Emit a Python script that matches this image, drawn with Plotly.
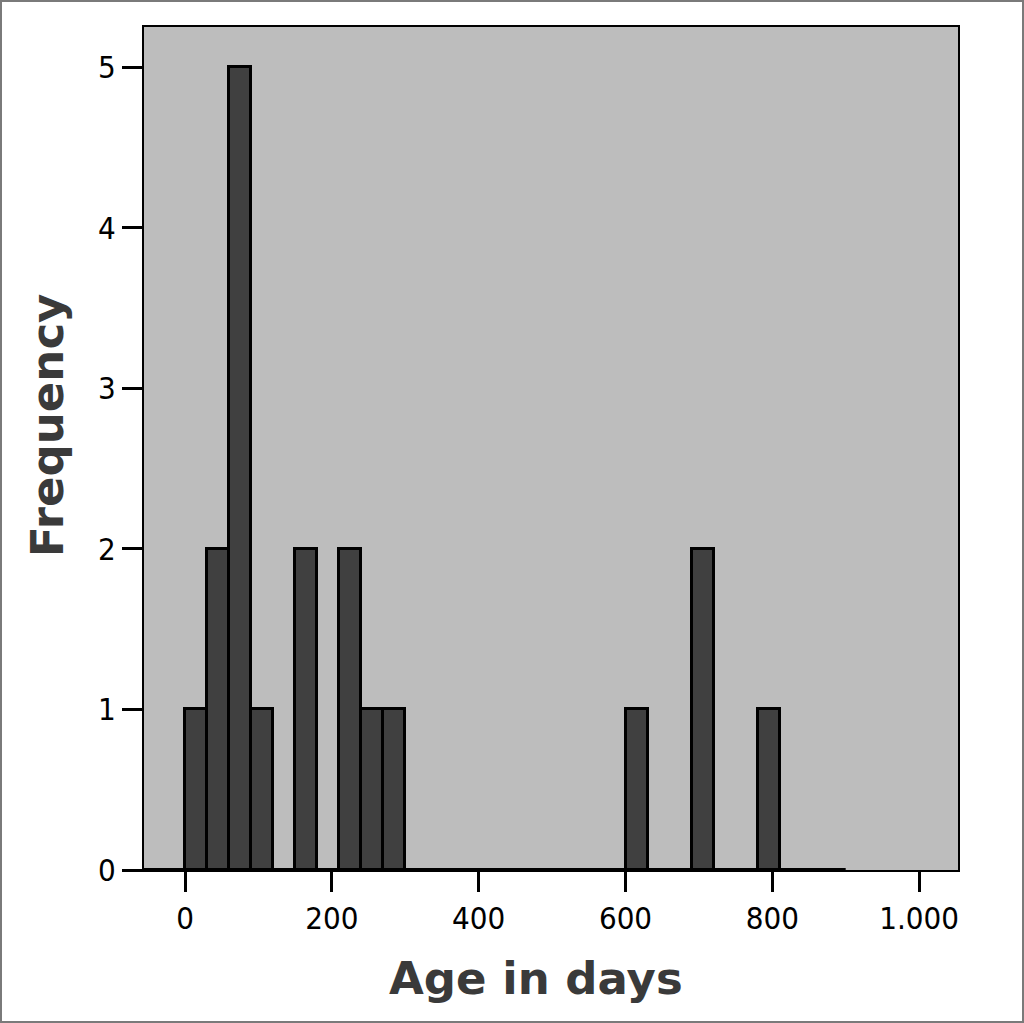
import plotly.graph_objects as go

# Histogram data (bin width 30 days)
bin_starts = [0, 30, 60, 90, 150, 210, 240, 270, 600, 690, 780]
counts = [1, 2, 5, 1, 2, 2, 1, 1, 1, 2, 1]
bin_width = 30
hist_end = 900
x_tickvals = [0, 200, 400, 600, 800, 1000]
x_ticktext = ["0", "200", "400", "600", "800", "1.000"]
y_tickvals = [0, 1, 2, 3, 4, 5]
x_title = "Age in days"
y_title = "Frequency"

W, H = 1024, 1023
ML, MR, MT, MB = 144, 66, 27, 153
PW, PH = W - ML - MR, H - MT - MB
XR = [-56, 1053]
YR = [0, 5.25]

centers = [s + bin_width / 2 for s in bin_starts]

fig = go.Figure()
fig.add_trace(go.Bar(
    x=centers, y=counts, width=[bin_width] * len(counts),
    marker=dict(color="#404040", line=dict(color="#000000", width=3)),
    showlegend=False, hoverinfo="x+y",
))

tick_font = dict(family="Liberation Sans Narrow, DejaVu Sans Condensed, Liberation Sans",
                 size=31, color="#000000")
fig.update_xaxes(
    range=XR, tickvals=x_tickvals, ticktext=x_ticktext,
    showgrid=False, zeroline=False, showline=True, linecolor="#000000", linewidth=2,
    mirror=True, ticks="outside", ticklen=20, tickwidth=3, tickcolor="#000000",
    tickfont=tick_font,
)
fig.update_yaxes(
    range=YR, tickvals=y_tickvals,
    showgrid=False, zeroline=False, showline=True, linecolor="#000000", linewidth=2,
    mirror=True, ticks="outside", ticklen=20, tickwidth=3, tickcolor="#000000",
    tickfont=tick_font,
)

def px(v):
    return (v - XR[0]) / (XR[1] - XR[0])

shapes = [
    # thick baseline from zero-height bins
    dict(type="line", xref="paper", yref="paper", x0=0, x1=px(hist_end), y0=0, y1=0,
         line=dict(color="#000000", width=4), layer="above"),
    # outer image border
    dict(type="rect", xref="paper", yref="paper",
         x0=-(ML - 1) / PW, x1=1 + (MR - 1) / PW, y0=-(MB - 1) / PH, y1=1 + (MT - 1) / PH,
         line=dict(color="#7a7a7a", width=2), fillcolor="rgba(0,0,0,0)", layer="below"),
]

title_font = dict(family="DejaVu Sans", size=45, color="#3a3a3a")
annotations = [
    dict(text="<b>" + x_title + "</b>", xref="paper", yref="paper",
         x=(536 - ML) / PW, y=-(978 - MT - PH) / PH, xanchor="center", yanchor="middle",
         showarrow=False, font=title_font),
    dict(text="<b>" + y_title + "</b>", xref="paper", yref="paper",
         x=-(ML - 48) / PW, y=1 - (426 - MT) / PH, xanchor="center", yanchor="middle",
         textangle=-90, showarrow=False, font=title_font),
]

fig.update_layout(
    width=W, height=H, autosize=False,
    margin=dict(l=ML, r=MR, t=MT, b=MB, pad=0),
    paper_bgcolor="#ffffff", plot_bgcolor="#bdbdbd",
    shapes=shapes, annotations=annotations, bargap=0,
)

fig.write_html("out.html", config={"displayModeBar": False},
               post_script="document.body.style.margin='0';document.body.style.overflow='hidden';")
